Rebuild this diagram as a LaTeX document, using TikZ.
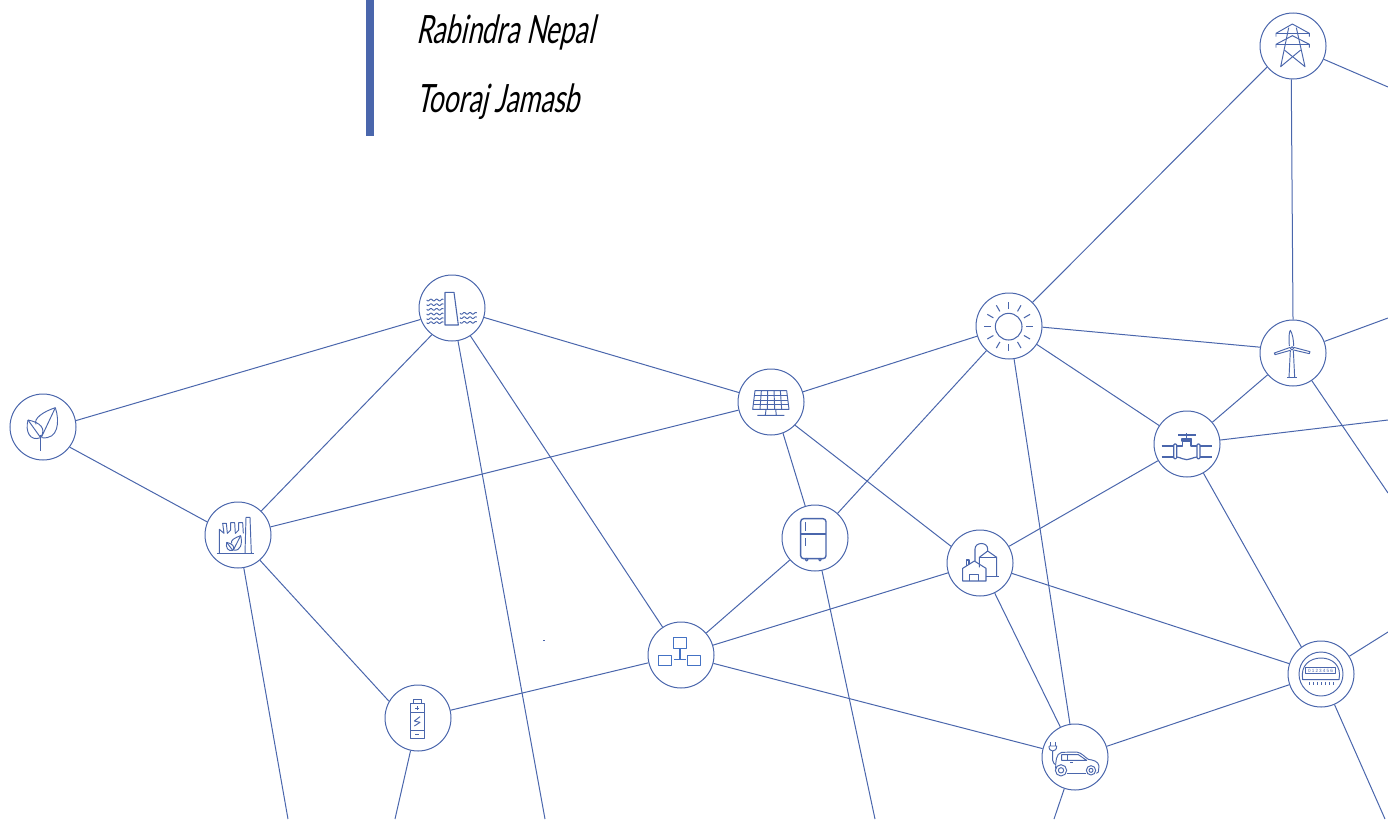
\documentclass[tikz,border=0pt]{standalone}
\usepackage{fontspec}
\setmainfont{Liberation Sans}
\newfontfamily\authorfont[FakeStretch=0.68,FakeSlant=0.22]{Lato}
\definecolor{netblue}{HTML}{4A66AC}
\definecolor{brightblue}{HTML}{4472C4}
\tikzset{
  hub/.style={circle,draw=netblue,line width=1pt,fill=white,minimum size=66pt,inner sep=0pt},
  link/.style={draw=netblue,line width=1pt},
  ico/.style n args={3}{shift={(#1)},scale=1/3,shift={(#2,#3)},draw=netblue,line width=0.95pt,line join=round},
  author/.style={anchor=base west,inner sep=0pt,font=\authorfont\fontsize{39pt}{43pt}\selectfont,text=black}
}
\newcommand{\wavy}[3]{\draw plot[domain=#1:#2,samples=40,smooth] (\x,{#3+2.6*sin((\x-#1)*21)});}
\begin{document}
\begin{tikzpicture}[x=1pt,y=-1pt]
\useasboundingbox (0,0) rectangle (1388,819);
\fill[netblue] (366,0) rectangle (374,136);
\node[author] (a1) at (416,43) {Rabindra Nepal};
\node[author] (a2) at (416,112) {Tooraj Jamasb};
\node[hub] (tower) at (1293,46) {};
\node[hub] (turbine) at (1293,353) {};
\node[hub] (valve) at (1187,444) {};
\node[hub] (sun) at (1009,326) {};
\node[hub] (panel) at (771,402) {};
\node[hub] (fridge) at (815,538) {};
\node[hub] (biogas) at (980,563) {};
\node[hub] (meter) at (1321,674) {};
\node[hub] (car) at (1075,757) {};
\node[hub] (hydro) at (452,308) {};
\node[hub] (leaf) at (43,427) {};
\node[hub] (factory) at (238,535) {};
\node[hub] (battery) at (418,718) {};
\node[hub] (network) at (681,655) {};
\coordinate (o1) at (288,819);
\coordinate (o2) at (395,819);
\coordinate (o3) at (545,819);
\coordinate (o4) at (875,819);
\coordinate (o5) at (1054,819);
\coordinate (o6) at (1385,819);
\coordinate (o7) at (1388,632);
\coordinate (o8) at (1388,493);
\coordinate (o9) at (1388,420);
\coordinate (o10) at (1388,318);
\coordinate (o11) at (1388,87);
\foreach \a/\b in {leaf.11/hydro.200,leaf.-37/factory.157,factory/hydro.233,factory/panel,factory.-49/battery.150,factory/o1,
  hydro/panel,hydro/network,hydro/o3,battery/network,battery/o2,network/fridge,network/biogas,network/car,
  panel/sun,panel.-69/fridge,panel.-44/biogas.150,fridge/sun,fridge/o4,sun/tower.219,sun.-2/turbine.170,sun/valve,sun/car,
  biogas/valve,biogas/meter,biogas/car,valve/turbine,valve/meter.126,valve/o9,tower.-93/turbine.90,tower/o11,
  turbine/o10,turbine/o8,meter/o7,meter/o6,car/o5,car/meter}
  {\draw[link] (\a) -- (\b);}
\coordinate (speck) at (543,640);
\coordinate (speckb) at (545,640);
\draw[link,line width=0.6pt] (speck) -- (speckb);
% tower
\begin{scope}[ico={tower}{-129}{-123}]
\draw (78,95)--(78,85)--(127,57)--(178,85)--(178,95);
\draw (78,85)--(178,85);
\draw (78,128)--(78,118)--(127,92)--(178,118)--(178,128);
\draw (78,118)--(178,118);
\draw (116,68)--(92,185)--(152,135);
\draw (139,68)--(165,185)--(103,135);
\end{scope}
% turbine
\begin{scope}[ico={turbine}{-444}{-114}]
\draw (441,100) circle (5);
\draw (433,93) .. controls (431,70) and (432,50) .. (436,46) .. controls (442,55) and (446,75) .. (446,93);
\draw (436,97)--(388,114)--(390,119)--(436,106);
\draw (446,97)--(495,110)--(493,116)--(446,105);
\draw (436,106)--(432,188);
\draw (445,106)--(449,188);
\draw (426,188)--(456,188);
\end{scope}
% valve
\begin{scope}[ico={valve}{-126}{-387},line width=1.2pt]
\draw (50,393)--(88,393) (165,393)--(200,393) (50,426)--(88,426) (165,426)--(200,426);
\draw[rounded corners=1pt] (86,387) rectangle (95,431);
\draw[rounded corners=1pt] (156,387) rectangle (165,431);
\draw (95,393)--(113,393)--(113,378) (138,378)--(138,393)--(156,393);
\draw (95,426) .. controls (110,428) and (113,434) .. (125,434) .. controls (137,434) and (140,428) .. (156,426);
\draw (111,372) rectangle (140,378);
\draw[line width=1.4pt] (125,354)--(125,372);
\draw[line width=2.4pt] (100,360)--(152,360);
\end{scope}
% sun
\begin{scope}[ico={sun}{-132}{-123},line width=1.05pt]
\draw (131,125) circle (40);
\foreach \t in {0,30,...,330} {\draw (131,125) ++(\t:53) -- ++(\t:21);}
\end{scope}
% panel
\begin{scope}[ico={panel}{-123}{-126}]
\draw (75,92)--(170,92)--(177,148)--(68,148)--cycle;
\draw (73.4,105)--(171.6,105) (71.5,120)--(173.5,120) (69.8,134)--(175.2,134);
\draw (94,92)--(90,148) (113,92)--(112,148) (132,92)--(134,148) (151,92)--(155,148);
\draw (108,148)--(106,166) (137,148)--(139,166) (82,166)--(163,166);
\end{scope}
% fridge
\begin{scope}[ico={fridge}{-255}{-534},line width=1.4pt]
\draw[rounded corners=3pt] (212,476) rectangle (288,596);
\draw (212,522)--(288,522);
\draw (226,487)--(226,512) (226,534)--(226,558);
\draw[line width=1pt] (230,599) circle (4) (270,599) circle (4);
\end{scope}
% biogas
\begin{scope}[ico={biogas}{-120}{-114},line width=1.05pt]
\draw (68,168)--(68,130)--(103,108)--(138,130)--(138,168)--cycle;
\draw (88,168)--(88,148)--(116,148)--(116,168);
\draw (80,122)--(80,105)--(87,105)--(87,117);
\draw (118,127)--(118,97)--(143,78)--(170,97)--(170,155);
\draw (118,97)--(170,97);
\draw (138,155)--(178,155);
\draw (105,108)--(105,72) .. controls (105,50) and (143,50) .. (143,72)--(143,78);
\end{scope}
% meter
\begin{scope}[ico={meter}{-858}{-116}]
\draw (858,116) circle (66);
\draw (803,133) .. controls (795,90) and (825,68) .. (858,68) .. controls (891,68) and (921,90) .. (912,133) -- cycle;
\draw[line width=0.6pt] (811,97) rectangle (902,115);
\node[inner sep=0pt,font=\fontsize{4.6pt}{5pt}\selectfont\addfontfeatures{LetterSpace=25},text=netblue] (digits) at (856.5,106) {0123456};
\foreach \x in {822,834,...,894} {\draw[line width=0.6pt] (\x,141)--(\x,148);}
\end{scope}
% car
\begin{scope}[ico={car}{-120}{-365}]
\draw (47,320)--(47,332) (60,320)--(60,332);
\draw (42,332)--(65,332) .. controls (65,342) and (60,347) .. (53,347) .. controls (46,347) and (42,342) .. (42,332);
\draw (53,347)--(53,375) .. controls (53,385) and (60,385) .. (62,388);
\draw (62,400) .. controls (62,380) and (62,355) .. (80,351) -- (125,350) .. controls (140,352) and (150,366) .. (160,372) .. controls (175,374) and (190,378) .. (192,392) -- (190,410) -- (184,414);
\draw (95,415)--(152,415);
\draw (78,405) circle (17) (78,405) circle (8);
\draw (168,405) circle (14) (168,405) circle (6);
\draw (80,358)--(80,375)--(155,375)--(130,358)--cycle;
\draw (97,358)--(97,375);
\draw (105,382)--(113,382);
\end{scope}
% hydro
\begin{scope}[ico={hydro}{-126}{-114}]
\draw[line width=1.1pt] (105,67)--(132,67)--(145,165)--(105,165)--cycle;
\foreach \y in {90,104,118,132,146,158} {\wavy{50}{100}{\y}}
\foreach \y in {130,143,157} {\wavy{150}{200}{\y}}
\end{scope}
% leaf
\begin{scope}[ico={leaf}{-129}{-126}]
\draw (166,68) .. controls (130,80) and (100,100) .. (108,118);
\draw (166,68) .. controls (180,110) and (175,165) .. (125,158);
\draw (125,155)--(166,68);
\draw (84,105) .. controls (120,112) and (140,130) .. (122,158) .. controls (90,170) and (75,140) .. (84,105);
\draw (84,105)--(122,158);
\draw (122,150)--(122,197);
\end{scope}
% factory
\begin{scope}[ico={factory}{-714}{-450}]
\draw (650,506)--(762,506);
\draw (658,506)--(658,433)--(672,445)--(668,415)--(679,415)--(682,445)--(692,435)--(692,413)--(704,413)--(706,445)--(716,435)--(716,413)--(728,413)--(730,445);
\draw (735,506)--(738,397)--(750,397)--(754,506);
\draw (722,452) .. controls (705,458) and (690,466) .. (695,475);
\draw (722,452) .. controls (728,475) and (722,500) .. (700,495);
\draw (700,495)--(722,452);
\draw (680,472) .. controls (695,475) and (708,485) .. (698,496) .. controls (685,500) and (676,488) .. (680,472);
\draw (680,472)--(698,496);
\end{scope}
% battery
\begin{scope}[ico={battery}{-129}{-309}]
\draw (115,266)--(115,254)--(139,254)--(139,266);
\draw (107,266) rectangle (147,370);
\draw (107,292)--(147,292) (107,345)--(147,345);
\draw (121,279)--(133,279) (127,273)--(127,285);
\draw (121,357)--(133,357);
\draw (135,305)--(118,318)--(135,322)--(118,333);
\end{scope}
% network
\begin{scope}[ico={network}{-918}{-120},line width=1.1pt]
\draw[draw=brightblue] (896,68) rectangle (934,100);
\draw[draw=brightblue] (851,121) rectangle (890,152);
\draw[draw=brightblue] (938,121) rectangle (976,152);
\draw[draw=brightblue] (915,100)--(915,134) (898,134)--(932,134);
\end{scope}
\end{tikzpicture}
\end{document}
